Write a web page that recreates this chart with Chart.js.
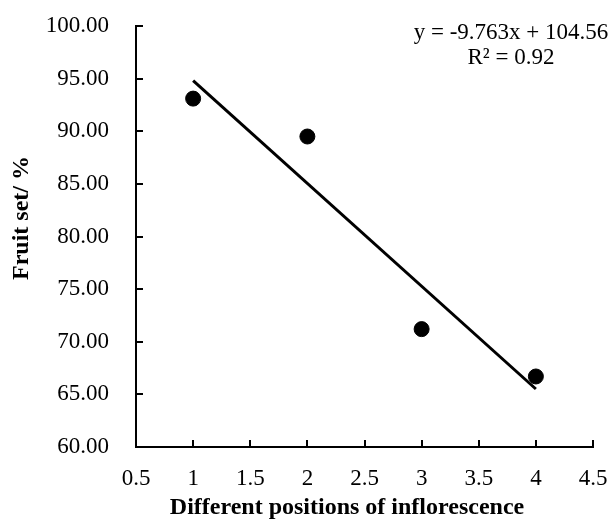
<!DOCTYPE html>
<html lang="en">
<head>
  <meta charset="UTF-8">
  <title>Fruit set by inflorescence position</title>
  <style>
    html, body { margin: 0; padding: 0; background: #fff; }
    #wrap { width: 614px; height: 519px; }
  </style>
</head>
<body>
  <div id="wrap"><canvas id="chart" width="614" height="519"></canvas></div>

  <script src="https://cdn.jsdelivr.net/npm/chart.js"></script>
  <script>
    // data
    const positions = [1, 2, 3, 4];
    const fruitSet = [93.1, 89.5, 71.2, 66.7];
    // linear trend line end points (y = -9.763x + 104.56)
    const trendX = [1, 4];
    const trendY = [94.80, 65.51];
    const equationLines = ['y = -9.763x + 104.56', 'R\u00b2 = 0.92'];
    const xTitle = 'Different positions of inflorescence';
    const yTitle = 'Fruit set/ %';

    const serif = '"Liberation Serif", "Times New Roman", serif';

    // ticks that point into the plot, axis titles and the equation text
    const extras = {
      id: 'extras',
      afterDraw(chart) {
        const ctx = chart.ctx;
        const x = chart.scales.x, y = chart.scales.y;
        ctx.save();
        ctx.strokeStyle = '#000';
        ctx.lineWidth = 2;
        ctx.beginPath();
        x.ticks.forEach(t => {
          const px = Math.round(x.getPixelForValue(t.value));
          ctx.moveTo(px, y.bottom);
          ctx.lineTo(px, y.bottom - 7);
        });
        y.ticks.forEach(t => {
          const py = Math.round(y.getPixelForValue(t.value));
          ctx.moveTo(x.left, py);
          ctx.lineTo(x.left + 7, py);
        });
        ctx.stroke();

        ctx.fillStyle = '#000';
        ctx.textAlign = 'center';
        ctx.textBaseline = 'middle';
        ctx.font = '23px ' + serif;
        ctx.fillText(equationLines[0], 511, 33);
        ctx.fillText(equationLines[1], 511, 58);

        ctx.font = 'bold 24px ' + serif;
        ctx.fillText(xTitle, 347, 508);
        ctx.translate(22, 218);
        ctx.rotate(-Math.PI / 2);
        ctx.fillText(yTitle, 0, 0);
        ctx.restore();
      }
    };

    window.onload = function () {
      const ctx = document.getElementById('chart').getContext('2d');
      new Chart(ctx, {
        type: 'scatter',
        data: {
          datasets: [{
            label: 'Fruit set',
            data: positions.map((p, i) => ({ x: p, y: fruitSet[i] })),
            backgroundColor: '#000',
            borderColor: '#000',
            pointRadius: 7.5,
            pointHoverRadius: 7.5
          }, {
            label: 'Linear',
            type: 'line',
            data: trendX.map((p, i) => ({ x: p, y: trendY[i] })),
            borderColor: '#000',
            borderWidth: 3,
            pointRadius: 0,
            fill: false
          }]
        },
        options: {
          responsive: false,
          animation: false,
          layout: { padding: { top: 26, right: 21, left: 0, bottom: 0 } },
          plugins: {
            legend: { display: false },
            tooltip: { enabled: false }
          },
          scales: {
            x: {
              type: 'linear',
              min: 0.5,
              max: 4.5,
              ticks: {
                stepSize: 0.5,
                color: '#000',
                font: { family: serif, size: 23 },
                padding: 18,
                maxRotation: 0,
                callback: v => String(v)
              },
              grid: { display: false, drawTicks: false },
              border: { display: true, color: '#000', width: 2 },
              afterFit(scale) {
                scale.height = 72;
                scale.paddingLeft = 0;
                scale.paddingRight = 0;
              }
            },
            y: {
              min: 60,
              max: 100,
              ticks: {
                stepSize: 5,
                color: '#000',
                font: { family: serif, size: 23 },
                padding: 27,
                callback: v => v.toFixed(2)
              },
              grid: { display: false, drawTicks: false },
              border: { display: true, color: '#000', width: 2 },
              afterFit(scale) {
                scale.width = 136;
                scale.paddingTop = 0;
                scale.paddingBottom = 0;
              }
            }
          }
        },
        plugins: [extras]
      });
    };
  </script>
</body>
</html>
